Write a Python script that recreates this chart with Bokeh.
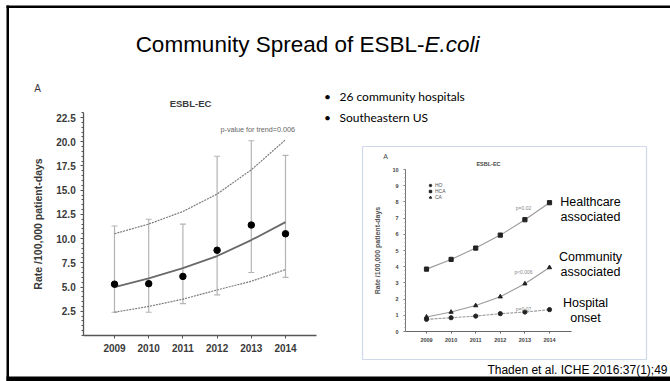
from bokeh.plotting import figure
from bokeh.models import (Range1d, LinearAxis, FixedTicker, Label, BoxAnnotation,
                          Legend, LegendItem, PrintfTickFormatter)
from bokeh.embed import file_html
from bokeh.resources import INLINE

# ---------------- data ----------------
years = [2009, 2010, 2011, 2012, 2013, 2014]

# ESBL-EC incidence (rate per 100,000 patient-days) with 95% CI bars
rate = [5.3, 5.35, 6.1, 8.8, 11.4, 10.5]
ci_upper = [11.3, 12.0, 11.5, 18.5, 20.1, 18.6]
ci_lower = [2.4, 2.4, 3.3, 4.2, 6.5, 6.0]

# fitted trend and its confidence band
trend = [5.0, 5.9, 6.95, 8.2, 9.85, 11.7]
trend_hi = [10.5, 11.5, 12.8, 14.6, 17.1, 20.2]
trend_lo = [2.4, 3.0, 3.75, 4.7, 5.6, 6.8]

y_ticks = [2.5, 5.0, 7.5, 10.0, 12.5, 15.0, 17.5, 20.0, 22.5]

# inset: rates by onset category
hca = [3.85, 4.45, 5.15, 5.95, 6.9, 7.95]
ca = [0.9, 1.2, 1.6, 2.15, 2.95, 3.95]
ho = [0.75, 0.85, 0.95, 1.1, 1.2, 1.35]
inset_y_ticks = [0, 1, 2, 3, 4, 5, 6, 7, 8, 9, 10]

W, H = 670, 381


def span_range(v0, p0, v1, p1, lo, hi):
    """Range whose ends sit at pixels lo/hi, given two value->pixel anchors."""
    k = (v1 - v0) / (p1 - p0)
    return Range1d(start=v0 + (lo - p0) * k, end=v0 + (hi - p0) * k)


# slide canvas: x in pixels from the left, y in pixels from the top
p = figure(width=W, height=H, x_range=Range1d(0, W), y_range=Range1d(H, 0),
           x_axis_type=None, y_axis_type=None, toolbar_location=None,
           output_backend="svg", min_border=0, outline_line_color=None,
           background_fill_color="white", border_fill_color="white")

# panel coordinate systems
p.extra_x_ranges = {
    "lx": span_range(2009, 114, 2014, 285, 0, W),
    "ix": span_range(2009, 426, 2014, 549, 0, W),
}
p.extra_y_ranges = {
    "ly": span_range(0, 335, 22.5, 117, H, 0),
    "iy": span_range(0, 331, 10, 169, H, 0),
}

# ---------------- slide frame ----------------
for box in [dict(left=6, right=W, top=5, bottom=7.5),
            dict(left=6, right=8.5, top=5, bottom=H),
            dict(left=6, right=W, top=376, bottom=H)]:
    p.add_layout(BoxAnnotation(fill_color="black", fill_alpha=1, line_color=None,
                               level="underlay", **box))

# ---------------- title ----------------
TITLE_FONT = "Liberation Sans"
p.add_layout(Label(x=424, y=44, text="Community Spread of ESBL-", text_align="right",
                   text_baseline="middle", text_font=TITLE_FONT,
                   text_font_size="22.5px", text_color="black"))
p.add_layout(Label(x=424, y=44, text="E.coli", text_align="left",
                   text_baseline="middle", text_font=TITLE_FONT,
                   text_font_style="italic", text_font_size="22.5px",
                   text_color="black"))

# ---------------- left panel ----------------
L = dict(x_range_name="lx", y_range_name="ly")
err_col = "#b4b4b4"
p.segment(x0=years, y0=ci_lower, x1=years, y1=ci_upper, line_color=err_col,
          line_width=1.2, **L)
p.scatter(x=years, y=ci_upper, marker="dash", size=6, line_color=err_col,
          line_width=1.2, **L)
p.scatter(x=years, y=ci_lower, marker="dash", size=6, line_color=err_col,
          line_width=1.2, **L)
p.line(x=years, y=trend_hi, line_color="#7a7a7a", line_width=1.2,
       line_dash="2 1", **L)
p.line(x=years, y=trend_lo, line_color="#7a7a7a", line_width=1.2,
       line_dash="2 1", **L)
p.line(x=years, y=trend, line_color="#6a6a6a", line_width=1.8, **L)
p.scatter(x=years, y=rate, size=6.5, fill_color="black", line_color="black", **L)

axis_col = "#555555"
lab_col = "#3a3a3a"

lxa = LinearAxis(x_range_name="lx", y_range_name="ly", fixed_location=0,
                 bounds=(2008.1, 2014.9), ticker=FixedTicker(ticks=years))
lxa.axis_line_color = axis_col
lxa.axis_line_width = 1.3
lxa.major_tick_line_color = axis_col
lxa.major_tick_out = 3
lxa.major_tick_in = 0
lxa.minor_tick_line_color = None
lxa.major_label_standoff = 5
lxa.major_label_text_font = "Liberation Sans"
lxa.major_label_text_font_style = "bold"
lxa.major_label_text_font_size = "10px"
lxa.major_label_text_color = lab_col
p.add_layout(lxa, "below")

lya = LinearAxis(x_range_name="lx", y_range_name="ly", fixed_location=2008.1,
                 bounds=(0, 23.0),
                 ticker=FixedTicker(ticks=y_ticks,
                                    minor_ticks=[i * 0.5 for i in range(0, 47)]),
                 formatter=PrintfTickFormatter(format="%.1f"))
lya.axis_line_color = axis_col
lya.axis_line_width = 1.3
lya.major_tick_line_color = axis_col
lya.major_tick_out = 3
lya.major_tick_in = 0
lya.minor_tick_line_color = axis_col
lya.minor_tick_out = 2
lya.minor_tick_in = 0
lya.major_label_standoff = 5
lya.major_label_text_font = "Liberation Sans"
lya.major_label_text_font_style = "bold"
lya.major_label_text_font_size = "10px"
lya.major_label_text_color = lab_col
lya.axis_label = "Rate /100,000 patient-days"
lya.axis_label_text_font = "Liberation Sans"
lya.axis_label_text_font_style = "bold"
lya.axis_label_text_font_size = "10.5px"
lya.axis_label_text_color = lab_col
lya.axis_label_standoff = 9
p.add_layout(lya, "left")

p.add_layout(Label(x=37, y=88, text="A", text_align="center", text_baseline="middle",
                   text_font="Liberation Sans", text_font_size="10px",
                   text_color=lab_col))
p.add_layout(Label(x=190, y=103, text="ESBL-EC", text_align="center",
                   text_baseline="middle", text_font="Liberation Sans",
                   text_font_style="bold", text_font_size="9.5px",
                   text_color=lab_col))
p.add_layout(Label(x=220, y=129, text="p-value for trend=0.006", text_align="left",
                   text_baseline="middle", text_font="Liberation Sans",
                   text_font_size="7.2px", text_color="#666666"))

# ---------------- bullets ----------------
BUL_FONT = "Lato"
for yy, txt in [(96, "26 community hospitals"), (117, "Southeastern US")]:
    p.add_layout(Label(x=327, y=yy, text="\u2022", text_align="center",
                       text_baseline="middle", text_font=BUL_FONT,
                       text_font_size="12px", text_color="black"))
    p.add_layout(Label(x=339, y=yy, text=txt, text_align="left",
                       text_baseline="middle", text_font=BUL_FONT,
                       text_font_size="12px", text_color="black"))

# ---------------- inset panel ----------------
p.add_layout(BoxAnnotation(left=362, right=646, top=146, bottom=359,
                           fill_alpha=0, level="underlay",
                           line_color="#5f82b8", line_width=1.2))

I = dict(x_range_name="ix", y_range_name="iy")
line_col = "#9a9a9a"
p.line(x=years, y=hca, line_color=line_col, line_width=1.1, **I)
p.line(x=years, y=ca, line_color=line_col, line_width=1.1, **I)
p.line(x=years, y=ho, line_color=line_col, line_width=1.1, line_dash="3 1", **I)
r_ho = p.scatter(x=years, y=ho, marker="circle", size=4.2, fill_color="#222222",
                 line_color="#222222", **I)
r_hca = p.scatter(x=years, y=hca, marker="square", size=4.2, fill_color="#222222",
                  line_color="#222222", **I)
r_ca = p.scatter(x=years, y=ca, marker="triangle", size=4.2, fill_color="#222222",
                 line_color="#222222", **I)

ixa = LinearAxis(x_range_name="ix", y_range_name="iy", fixed_location=0,
                 bounds=(2008.15, 2014.9), ticker=FixedTicker(ticks=years))
ixa.axis_line_color = "#666666"
ixa.axis_line_width = 1
ixa.major_tick_line_color = "#666666"
ixa.major_tick_out = 2
ixa.major_tick_in = 0
ixa.minor_tick_line_color = None
ixa.major_label_standoff = 4
ixa.major_label_text_font = "Liberation Sans"
ixa.major_label_text_font_style = "bold"
ixa.major_label_text_font_size = "5.5px"
ixa.major_label_text_color = "#444444"
p.add_layout(ixa, "below")

iya = LinearAxis(x_range_name="ix", y_range_name="iy", fixed_location=2008.15,
                 bounds=(0, 10),
                 ticker=FixedTicker(ticks=inset_y_ticks,
                                    minor_ticks=[i * 0.25 for i in range(0, 41)]),
                 formatter=PrintfTickFormatter(format="%d"))
iya.axis_line_color = "#777777"
iya.axis_line_width = 1
iya.major_tick_line_color = "#777777"
iya.major_tick_out = 2
iya.major_tick_in = 0
iya.minor_tick_line_color = "#888888"
iya.minor_tick_out = 1
iya.minor_tick_in = 0
iya.major_label_standoff = 5
iya.major_label_text_font = "Liberation Sans"
iya.major_label_text_font_style = "bold"
iya.major_label_text_font_size = "5.5px"
iya.major_label_text_color = "#444444"
iya.axis_label = "Rate /100,000 patient-days"
iya.axis_label_text_font = "Liberation Sans"
iya.axis_label_text_font_style = "bold"
iya.axis_label_text_font_size = "7px"
iya.axis_label_text_color = "#555555"
iya.axis_label_standoff = 8
p.add_layout(iya, "left")

legend = Legend(items=[LegendItem(label="HO", renderers=[r_ho]),
                       LegendItem(label="HCA", renderers=[r_hca]),
                       LegendItem(label="CA", renderers=[r_ca])],
                location=(427, 181), orientation="vertical",
                label_text_font="Liberation Sans", label_text_font_size="5px",
                label_text_color="#555555", glyph_width=6, glyph_height=6,
                label_standoff=2, spacing=0, padding=0, margin=0,
                label_height=6, border_line_color=None,
                background_fill_alpha=0)
p.add_layout(legend)

p.add_layout(Label(x=385, y=156, text="A", text_align="center", text_baseline="middle",
                   text_font="Liberation Sans", text_font_size="7px",
                   text_color="#444444"))
p.add_layout(Label(x=488, y=163, text="ESBL-EC", text_align="center",
                   text_baseline="middle", text_font="Liberation Sans",
                   text_font_style="bold", text_font_size="5.5px",
                   text_color="#444444"))
for yy, txt in [(207, "p=0.02"), (271, "p<0.006"), (308, "p=0.07")]:
    p.add_layout(Label(x=523, y=yy, text=txt, text_align="center",
                       text_baseline="middle", text_font="Liberation Sans",
                       text_font_size="5px", text_color="#888888"))

ANN_FONT = "Liberation Sans"
for cx, yy, txt in [(590, 201, "Healthcare"), (590, 216, "associated"),
                    (590, 256, "Community"), (590, 271, "associated"),
                    (585, 302, "Hospital"), (585, 317, "onset")]:
    p.add_layout(Label(x=cx, y=yy, text=txt, text_align="center",
                       text_baseline="middle", text_font=ANN_FONT,
                       text_font_size="12.5px", text_color="black"))

# ---------------- citation ----------------
p.add_layout(Label(x=667, y=369.5, text="Thaden et al. ICHE 2016:37(1);49",
                   text_align="right", text_baseline="middle",
                   text_font="Liberation Sans", text_font_size="12px",
                   text_color="black"))

open("out.html", "w").write(file_html(p, INLINE))
